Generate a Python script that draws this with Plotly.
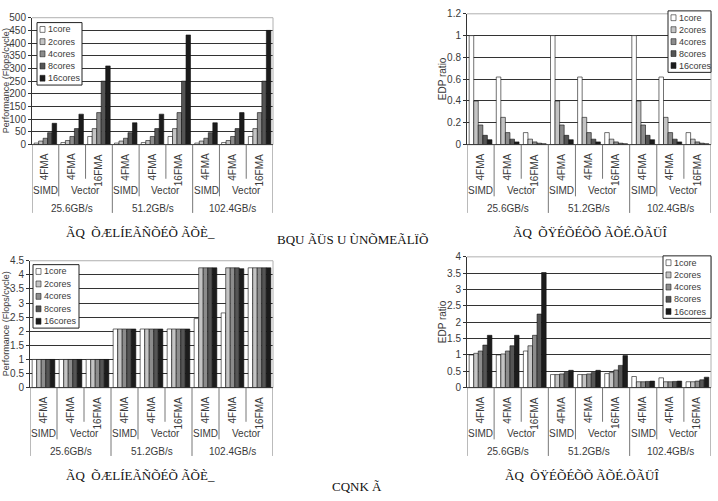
import plotly.graph_objects as go

W, H = 718, 501

# ---------------- data ----------------
series_names = ["1core", "2cores", "4cores", "8cores", "16cores"]
series_colors = ["#ffffff", "#c4c4c4", "#8c8c8c", "#555555", "#1c1c1c"]
fma_labels = ["4FMA", "4FMA", "16FMA", "4FMA", "4FMA", "16FMA", "4FMA", "4FMA", "16FMA"]
unit_labels = ["SIMD", "Vector"]
bandwidth_labels = ["25.6GB/s", "51.2GB/s", "102.4GB/s"]

perf_top = [
    [6, 8, 32, 6, 8, 32, 6, 8, 32],
    [14, 16, 63, 14, 16, 63, 14, 16, 63],
    [25, 32, 126, 25, 32, 126, 25, 32, 126],
    [47, 63, 250, 47, 63, 250, 47, 63, 250],
    [84, 120, 310, 86, 120, 432, 86, 126, 450],
]
edp_top = [
    [1.0, 0.62, 0.11, 1.0, 0.62, 0.11, 1.0, 0.62, 0.11],
    [0.40, 0.25, 0.05, 0.40, 0.25, 0.05, 0.40, 0.25, 0.05],
    [0.18, 0.11, 0.025, 0.18, 0.11, 0.025, 0.18, 0.11, 0.025],
    [0.085, 0.05, 0.013, 0.085, 0.05, 0.013, 0.085, 0.05, 0.013],
    [0.045, 0.025, 0.008, 0.045, 0.025, 0.008, 0.045, 0.025, 0.008],
]
perf_bottom = [
    [1.0, 1.0, 1.0, 2.08, 2.08, 2.08, 2.45, 2.65, 4.25],
    [1.0, 1.0, 1.0, 2.08, 2.08, 2.08, 4.25, 4.25, 4.25],
    [1.0, 1.0, 1.0, 2.08, 2.08, 2.08, 4.25, 4.25, 4.25],
    [1.0, 1.0, 1.0, 2.08, 2.08, 2.08, 4.25, 4.25, 4.25],
    [1.0, 1.0, 1.0, 2.08, 2.08, 2.08, 4.25, 4.22, 4.25],
]
edp_bottom = [
    [1.00, 1.00, 1.12, 0.40, 0.40, 0.43, 0.34, 0.30, 0.18],
    [1.05, 1.03, 1.28, 0.40, 0.40, 0.46, 0.18, 0.18, 0.18],
    [1.12, 1.12, 1.60, 0.42, 0.42, 0.54, 0.18, 0.18, 0.20],
    [1.30, 1.28, 2.25, 0.46, 0.46, 0.68, 0.19, 0.19, 0.24],
    [1.60, 1.60, 3.52, 0.53, 0.53, 0.98, 0.20, 0.20, 0.32],
]

cap_perf = "ÃQ  ÕÆLÍEÃÑÕÉÕ ÃÕÈ_"
cap_edp = "ÃQ  ÕŸÉÕÉÕÕ ÃÕÉ.ÕÃÜÎ"
cap_mid = "BQU ÃÜS U ÙNÕMEÃLÏÕ"
cap_fig = "CQNK Ã"

# ---------------- layout config (pixels) ----------------
panels = [
    ("", perf_top, 32, 273, 12, 142, [0, 500], 50, "Performance (Flops/cycle)", (37, 17, 82, 81), cap_perf, 140),
    ("2", edp_top, 467, 711, 8, 142, [0, 1.2], 0.2, "EDP ratio", (668, 5, 711, 68), cap_edp, 590),
    ("3", perf_bottom, 30, 273, 261, 391, [0, 4.5], 0.5, "Performance (Flops/cycle)", (33, 265, 79, 330), cap_perf, 140),
    ("4", edp_bottom, 467, 711, 257, 391, [0, 4], 0.5, "EDP ratio", (663, 256, 711, 320), cap_edp, 582),
]

def px(x):
    return x / W

def py(y):
    return 1 - y / H

FONT = "Liberation Sans, Arial, sans-serif"
SERIF = "Liberation Serif, serif"
TXT = "#3a3a3a"

fig = go.Figure()
layout = dict(
    width=W, height=H, margin=dict(l=0, r=0, t=0, b=0),
    paper_bgcolor="white", plot_bgcolor="white",
    barmode="group", bargap=0.16, bargroupgap=0.0,
    showlegend=False, font=dict(family=FONT, size=10, color=TXT),
)
annotations = []
shapes = []
ncat = len(fma_labels)

for (suf, data, x0, x1, yt, yb, yr, dt, ytitle, lbox, cap, capx) in panels:
    xa = "x" + suf
    ya = "y" + suf
    for name, color, vals in zip(series_names, series_colors, data):
        fig.add_trace(go.Bar(
            x=list(range(ncat)), y=vals, name=name, xaxis=xa, yaxis=ya,
            marker=dict(color=color, line=dict(color="#111111", width=0.6)),
        ))
    layout["xaxis" + suf] = dict(
        domain=[px(x0), px(x1)], range=[-0.5, ncat - 0.5], anchor=ya,
        showticklabels=False, showgrid=False, zeroline=False, showline=False, ticks="",
    )
    layout["yaxis" + suf] = dict(
        domain=[py(yb), py(yt)], range=yr, dtick=dt, anchor=xa,
        showgrid=True, gridcolor="#333333", gridwidth=1, zeroline=False,
        showline=True, linecolor="#333333", linewidth=1, ticks="outside", ticklen=3,
        tickcolor="#333333", tickfont=dict(size=10, color=TXT, family=FONT),
    )
    # frame
    shapes.append(dict(type="line", xref=xa + " domain", yref=ya + " domain", x0=0, x1=1, y0=1, y1=1,
                       line=dict(color="#b0b0b0", width=1), layer="above"))
    shapes.append(dict(type="line", xref=xa + " domain", yref=ya + " domain", x0=1, x1=1, y0=0, y1=1,
                       line=dict(color="#b0b0b0", width=1), layer="above"))
    shapes.append(dict(type="line", xref=xa + " domain", yref=ya + " domain", x0=0, x1=1, y0=0, y1=0,
                       line=dict(color="#333333", width=1), layer="above"))
    # y title
    left = suf in ("", "3")
    tx = 6 if left else 442
    annotations.append(dict(text=ytitle, textangle=-90, xref="paper", yref="paper",
                            x=px(tx), y=py((yt + yb) / 2), xanchor="center", yanchor="middle",
                            showarrow=False, font=dict(size=9 if left else 10, color=TXT)))
    # category labels (three levels)
    for i, lab in enumerate(fma_labels):
        annotations.append(dict(text=lab, textangle=-90, xref=xa, yref="paper", x=i, y=py(yb + 7),
                                xanchor="center", yanchor="top", showarrow=False,
                                font=dict(size=10, color=TXT)))
    for g in range(3):
        base = g * 3
        annotations.append(dict(text=unit_labels[0], xref=xa, yref="paper", x=base, y=py(yb + 47),
                                xanchor="center", yanchor="middle", showarrow=False,
                                font=dict(size=10, color=TXT)))
        annotations.append(dict(text=unit_labels[1], xref=xa, yref="paper", x=base + 1.5, y=py(yb + 47),
                                xanchor="center", yanchor="middle", showarrow=False,
                                font=dict(size=10, color=TXT)))
        annotations.append(dict(text=bandwidth_labels[g], xref=xa, yref="paper", x=base + 1, y=py(yb + 65),
                                xanchor="center", yanchor="middle", showarrow=False,
                                font=dict(size=10, color=TXT)))
    for b in range(ncat + 1):
        xb = b - 0.5
        if b % 3 == 0:
            depth = 70
        elif b % 3 == 1:
            depth = 53
        else:
            depth = 35
        shapes.append(dict(type="line", xref=xa, yref="paper", x0=xb, x1=xb, y0=py(yb), y1=py(yb + depth),
                           line=dict(color="#777777", width=1)))
    # caption
    annotations.append(dict(text=cap, xref="paper", yref="paper", x=px(capx), y=py(yb + 90),
                            xanchor="center", yanchor="middle", showarrow=False,
                            font=dict(size=13, color="#111111", family=SERIF)))
    # legend box
    lx0, ly0, lx1, ly1 = lbox
    shapes.append(dict(type="rect", xref="paper", yref="paper", x0=px(lx0), x1=px(lx1), y0=py(ly0), y1=py(ly1),
                       line=dict(color="#222222", width=1), fillcolor="white", layer="above"))
    step = (ly1 - ly0 - 14) / 4.0
    for k, (name, color) in enumerate(zip(series_names, series_colors)):
        cy = ly0 + 7 + k * step
        shapes.append(dict(type="rect", xref="paper", yref="paper", x0=px(lx0 + 3), x1=px(lx0 + 8),
                           y0=py(cy - 3), y1=py(cy + 3), line=dict(color="#222222", width=0.6),
                           fillcolor=color, layer="above"))
        annotations.append(dict(text=name, xref="paper", yref="paper", x=px(lx0 + 9), y=py(cy),
                                xanchor="left", yanchor="middle", showarrow=False,
                                font=dict(size=9, color=TXT)))

annotations.append(dict(text=cap_mid, xref="paper", yref="paper", x=px(352), y=py(239),
                        xanchor="center", yanchor="middle", showarrow=False,
                        font=dict(size=13, color="#111111", family=SERIF)))
annotations.append(dict(text=cap_fig, xref="paper", yref="paper", x=px(357), y=py(492),
                        xanchor="center", yanchor="middle", showarrow=False,
                        font=dict(size=13, color="#111111", family=SERIF)))

layout["annotations"] = annotations
layout["shapes"] = shapes
fig.update_layout(**layout)
fig.write_html("out.html")
